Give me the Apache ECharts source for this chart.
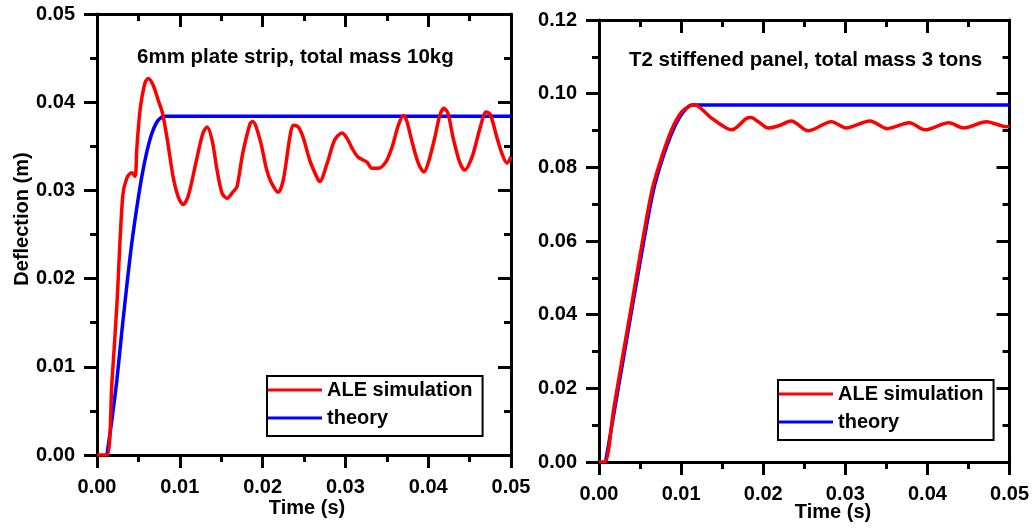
<!DOCTYPE html>
<html>
<head>
<meta charset="utf-8">
<script src="https://cdn.jsdelivr.net/npm/echarts@6/dist/echarts.min.js"></script>
<style>
html,body{margin:0;padding:0;background:#fff;}
#chart{width:1032px;height:529px;}
</style>
</head>
<body>
<div id="chart"></div>
<script>
// ---- Data ----
const xTicks = [0, 0.01, 0.02, 0.03, 0.04, 0.05];
const seriesNames = ['ALE simulation', 'theory'];
const panelTitles = ['6mm plate strip, total mass 10kg', 'T2 stiffened panel, total mass 3 tons'];
const axisTitles = { y: 'Deflection (m)', x: 'Time (s)' };

// Left panel: ALE simulation
const leftAleT = [0, 0.0012, 0.0018, 0.0024, 0.0031, 0.0036, 0.0042, 0.0046, 0.0048, 0.0052, 0.0058, 0.0062, 0.0068, 0.0074, 0.0079, 0.0085, 0.0092, 0.0098, 0.0104, 0.0110, 0.0121, 0.0128, 0.0133, 0.0139, 0.0145, 0.0151, 0.0157, 0.0164, 0.0169, 0.0176, 0.0185, 0.0188, 0.0197, 0.0205, 0.0211, 0.0219, 0.0225, 0.0233, 0.0237, 0.0243, 0.0249, 0.0257, 0.0266, 0.0269, 0.0278, 0.0287, 0.0296, 0.0302, 0.0308, 0.0315, 0.0326, 0.0332, 0.0339, 0.0348, 0.0356, 0.0364, 0.0370, 0.0374, 0.0380, 0.0388, 0.0395, 0.0400, 0.0408, 0.0414, 0.0419, 0.0424, 0.0430, 0.0438, 0.0444, 0.0453, 0.0463, 0.0470, 0.0475, 0.0483, 0.0489, 0.0495, 0.0500];
const leftAleY = [0, 0, 0.0082, 0.0170, 0.0293, 0.0314, 0.0320, 0.0316, 0.0346, 0.0391, 0.0422, 0.0427, 0.0419, 0.0402, 0.0388, 0.0357, 0.0315, 0.0293, 0.0284, 0.0293, 0.0338, 0.0365, 0.0372, 0.0357, 0.0323, 0.0297, 0.0291, 0.0298, 0.0304, 0.0342, 0.0376, 0.0378, 0.0357, 0.0323, 0.0308, 0.0298, 0.0312, 0.0361, 0.0374, 0.0372, 0.0360, 0.0334, 0.0314, 0.0310, 0.0331, 0.0357, 0.0365, 0.0359, 0.0348, 0.0338, 0.0332, 0.0325, 0.0325, 0.0331, 0.0348, 0.0374, 0.0385, 0.0379, 0.0357, 0.0331, 0.0321, 0.0331, 0.0360, 0.0385, 0.0393, 0.0387, 0.0360, 0.0332, 0.0323, 0.0338, 0.0372, 0.0389, 0.0386, 0.0360, 0.0342, 0.0331, 0.0338];
// Left panel: theory
const leftThT = [0.0012, 0.0018, 0.0024, 0.0030, 0.0036, 0.0042, 0.0048, 0.0054, 0.0060, 0.0066, 0.0072, 0.0078, 0.0082, 0.0500];
const leftThY = [0, 0.0040, 0.0085, 0.0140, 0.0192, 0.0240, 0.0280, 0.0315, 0.0343, 0.0364, 0.0377, 0.0383, 0.0384, 0.0384];

// Right panel: ALE simulation
const rightAleT = [0, 0.0007, 0.0018, 0.0029, 0.0040, 0.0050, 0.0065, 0.0077, 0.0089, 0.0101, 0.0112, 0.0117, 0.0122, 0.0138, 0.0155, 0.0162, 0.0170, 0.0179, 0.0185, 0.0194, 0.0206, 0.0219, 0.0234, 0.0255, 0.0283, 0.0301, 0.0330, 0.0351, 0.0378, 0.0397, 0.0426, 0.0444, 0.0472, 0.0496, 0.0500];
const rightAleY = [0, 0, 0.0145, 0.0289, 0.0430, 0.0561, 0.0742, 0.0832, 0.0905, 0.0951, 0.0968, 0.0970, 0.0964, 0.0932, 0.0907, 0.0902, 0.0913, 0.0932, 0.0935, 0.0924, 0.0907, 0.0913, 0.0926, 0.0899, 0.0924, 0.0907, 0.0926, 0.0905, 0.0921, 0.0902, 0.0921, 0.0907, 0.0924, 0.0910, 0.0912];
// Right panel: theory
const rightThT = [0.0008, 0.0030, 0.0051, 0.0066, 0.0078, 0.0090, 0.0102, 0.0113, 0.0500];
const rightThY = [0, 0.0285, 0.0555, 0.0735, 0.0828, 0.0900, 0.0948, 0.0969, 0.0969];

const leftYMax = 0.05, leftYStep = 0.01;
const rightYMax = 0.12, rightYStep = 0.02;

// ---- Styling helpers ----
const FONT = "'Liberation Sans', Arial, sans-serif";
const RED = '#ff0000', BLUE = '#0000ff';
const zip = (a, b) => a.map((v, i) => [v, b[i]]);

function axisCommon(showLabel, inside) {
  return {
    axisLine: { show: true, onZero: false, lineStyle: { color: '#000', width: 3 } },
    axisTick: { show: true, inside: inside, length: 13, lineStyle: { color: '#000', width: 3 } },
    minorTick: { show: true, splitNumber: 2, length: 7, lineStyle: { color: '#000', width: 3 } },
    axisLabel: { show: showLabel, margin: 22, fontSize: 20, fontWeight: 'bold', color: '#000', fontFamily: FONT, formatter: v => v.toFixed(2) },
    splitLine: { show: false },
    minorSplitLine: { show: false }
  };
}
function xAx(grid, pos) {
  return Object.assign({ type: 'value', gridIndex: grid, position: pos, min: xTicks[0], max: xTicks[xTicks.length - 1], interval: xTicks[1] - xTicks[0] },
    axisCommon(pos === 'bottom', pos === 'top'));
}
function yAx(grid, pos, max, step) {
  return Object.assign({ type: 'value', gridIndex: grid, position: pos, min: 0, max: max, interval: step },
    axisCommon(pos === 'left', pos === 'right'));
}
function line(name, data, color, xi, yi, z) {
  return { name, type: 'line', data, xAxisIndex: xi, yAxisIndex: yi, showSymbol: false, symbol: 'none', smooth: 0.3,
    lineStyle: { color, width: 3.5 }, itemStyle: { color }, z, animation: false };
}
function legend(left, top) {
  return { data: seriesNames, orient: 'vertical', left, top, itemWidth: 54, itemHeight: 3, icon: 'rect', itemGap: 8,
    padding: [4, 10, 8, 1], borderColor: '#000', borderWidth: 2, selectedMode: false,
    textStyle: { fontSize: 20, fontWeight: 'bold', color: '#000', fontFamily: FONT } };
}
const textStyle = { fontSize: 20, fontWeight: 'bold', fill: '#000', fontFamily: FONT };

const chart = echarts.init(document.getElementById('chart'));
chart.setOption({
  animation: false,
  backgroundColor: '#fff',
  grid: [
    { left: 97, top: 14, width: 414, height: 441, containLabel: false },
    { left: 599, top: 20, width: 414, height: 442, containLabel: false }
  ],
  xAxis: [xAx(0, 'bottom'), xAx(0, 'top'), xAx(1, 'bottom'), xAx(1, 'top')],
  yAxis: [yAx(0, 'left', leftYMax, leftYStep), yAx(0, 'right', leftYMax, leftYStep),
          yAx(1, 'left', rightYMax, rightYStep), yAx(1, 'right', rightYMax, rightYStep)],
  title: [
    { text: panelTitles[0], left: 137, top: 47, padding: 0, textStyle: { fontSize: 20.5, fontWeight: 'bold', color: '#000', fontFamily: FONT } },
    { text: panelTitles[1], left: 629, top: 50, padding: 0, textStyle: { fontSize: 20.5, fontWeight: 'bold', color: '#000', fontFamily: FONT } }
  ],
  legend: [legend(267, 376), legend(778, 380)],
  series: [
    line(seriesNames[1], zip(leftThT, leftThY), BLUE, 0, 0, 2),
    line(seriesNames[0], zip(leftAleT, leftAleY), RED, 0, 0, 3),
    line(seriesNames[1], zip(rightThT, rightThY), BLUE, 2, 2, 2),
    line(seriesNames[0], zip(rightAleT, rightAleY), RED, 2, 2, 3)
  ],
  graphic: [
    { type: 'text', x: 22, y: 219, rotation: Math.PI / 2, style: Object.assign({ text: axisTitles.y, align: 'center', verticalAlign: 'middle' }, textStyle) },
    { type: 'text', x: 307, y: 508, style: Object.assign({ text: axisTitles.x, align: 'center', verticalAlign: 'middle' }, textStyle) },
    { type: 'text', x: 833, y: 512, style: Object.assign({ text: axisTitles.x, align: 'center', verticalAlign: 'middle' }, textStyle) }
  ]
});
</script>
</body>
</html>
